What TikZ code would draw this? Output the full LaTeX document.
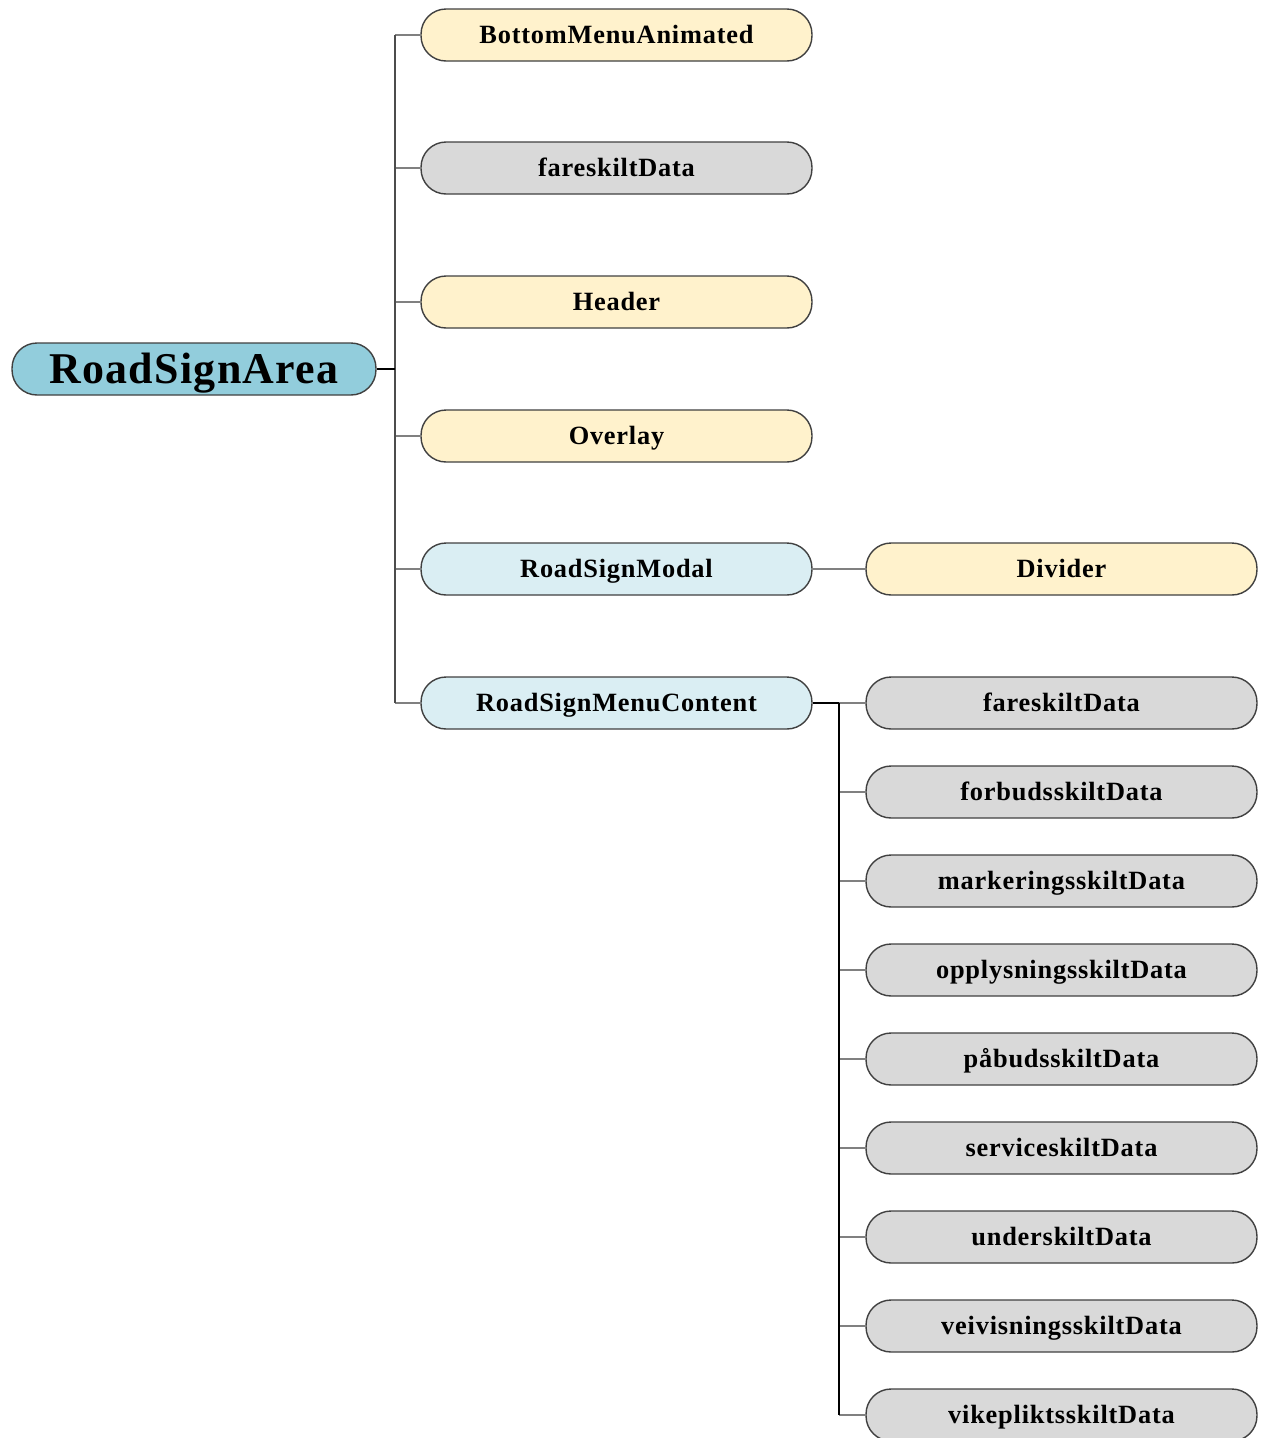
\documentclass[tikz,border=0pt]{standalone}
\usepackage{fontspec}
\setmainfont{Liberation Serif}[LetterSpace=3]
\begin{document}
\begin{tikzpicture}[x=0.02cm,y=-0.02cm,
  pill/.style={draw=black!75, line width=0.8pt, rounded corners=0.5cm,
    minimum width=7.82cm, minimum height=1.04cm, inner sep=0pt,
    text height=12pt, text depth=2pt,
    font=\fontsize{15}{18}\selectfont\bfseries},
  comp/.style={pill, fill=compfill},
  data/.style={pill, fill=datafill},
  cont/.style={pill, fill=contfill},
  rootbox/.style={pill, fill=rootfill, minimum width=7.28cm,
    text height=19.5pt, text depth=3pt,
    font=\fontsize{25}{30}\selectfont\bfseries},
  stub/.style={black, line width=1.2pt},
  trunk/.style={black!70, line width=1pt},
  twig/.style={black!50, line width=0.8pt}]
\definecolor{compfill}{HTML}{FFF2CC}
\definecolor{datafill}{HTML}{D9D9D9}
\definecolor{contfill}{HTML}{DAEEF3}
\definecolor{rootfill}{HTML}{92CDDC}
\useasboundingbox (0,0) rectangle (1263,1438);

% root
\node[rootbox] (root) at (194,369) {RoadSignArea};

% first level
\node[comp] (bma)  at (616.5,35)  {BottomMenuAnimated};
\node[data] (fd1)  at (616.5,168) {fareskiltData};
\node[comp] (hdr)  at (616.5,302) {Header};
\node[comp] (ovl)  at (616.5,436) {Overlay};
\node[cont] (rsm)  at (616.5,569) {RoadSignModal};
\node[cont] (rsmc) at (616.5,703) {RoadSignMenuContent};

% second level
\node[comp] (div) at (1061.5,569) {Divider};
\node[data] (d1) at (1061.5,703)  {fareskiltData};
\node[data] (d2) at (1061.5,792)  {forbudsskiltData};
\node[data] (d3) at (1061.5,881)  {markeringsskiltData};
\node[data] (d4) at (1061.5,970)  {opplysningsskiltData};
\node[data] (d5) at (1061.5,1059) {påbudsskiltData};
\node[data] (d6) at (1061.5,1148) {serviceskiltData};
\node[data] (d7) at (1061.5,1237) {underskiltData};
\node[data] (d8) at (1061.5,1326) {veivisningsskiltData};
\node[data] (d9) at (1061.5,1415) {vikepliktsskiltData};

% connectors from the root
\coordinate (ja) at (395,369);
\foreach \c in {bma,fd1,hdr,ovl,rsm,rsmc}
  \draw[twig] (ja |- \c) -- (\c.west);
\draw[trunk] (ja |- bma) -- (ja |- rsmc);
\draw[stub] (root.east) -- (ja);

% RoadSignModal -> Divider
\draw[twig] (rsm.east) -- (div.west);

% connectors from RoadSignMenuContent
\coordinate (jb) at (839,703);
\foreach \c in {d1,d2,d3,d4,d5,d6,d7,d8,d9}
  \draw[twig] (jb |- \c) -- (\c.west);
\draw[stub] (jb) -- (jb |- d9);
\draw[stub] (rsmc.east) -- (jb);
\end{tikzpicture}
\end{document}
